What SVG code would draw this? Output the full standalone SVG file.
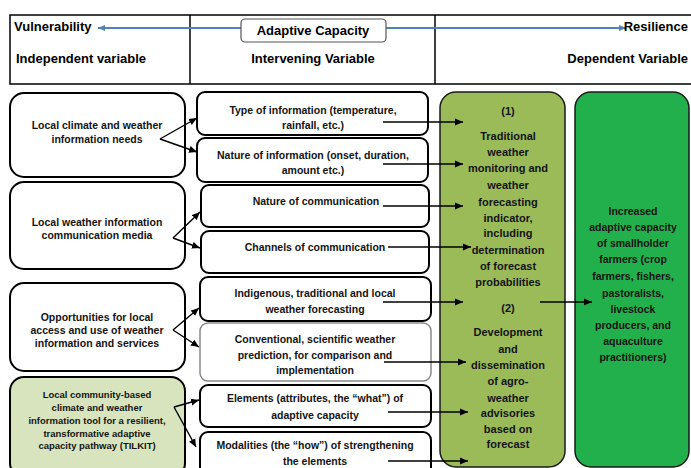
<svg xmlns="http://www.w3.org/2000/svg" width="691" height="468" viewBox="0 0 691 468">
  <style>
    text { font-family: "Liberation Sans", Arial, sans-serif; font-weight: bold; fill: #141414; }
    .hdr { font-size: 13px; fill: #000; }
    .t { font-size: 10.5px; text-anchor: middle; }
    .ts { font-size: 9.5px; text-anchor: middle; }
    .tg { font-size: 11px; text-anchor: middle; }
    .box { fill: #fff; stroke: #000; stroke-width: 2; }
    .soft { fill: #fff; stroke: #8a8a8a; stroke-width: 1.5; }
    .grid { fill: none; stroke: #000; stroke-width: 1.5; }
    .con { fill: none; stroke: #000; stroke-width: 1.4; }
    .blue { fill: none; stroke: #4f81bd; stroke-width: 2; }
  </style>
  <defs>
    <marker id="ah" markerUnits="userSpaceOnUse" markerWidth="9" markerHeight="8" refX="8" refY="4" orient="auto">
      <path d="M0,0.5 L8,4 L0,7.5 z" fill="#000"/>
    </marker>
    <marker id="ahb" markerUnits="userSpaceOnUse" markerWidth="9" markerHeight="8" refX="7" refY="4" orient="auto">
      <path d="M0,1 L7,4 L0,7 z" fill="#4f81bd"/>
    </marker>
  </defs>

  <rect width="691" height="468" fill="#fff"/>

  <!-- header table -->
  <g id="header">
    <rect class="grid" x="10" y="15" width="690" height="69"/>
    <line class="grid" x1="190" y1="15" x2="190" y2="84"/>
    <line class="grid" x1="435" y1="15" x2="435" y2="84"/>
    <line class="blue" x1="241" y1="28" x2="98" y2="28" marker-end="url(#ahb)"/>
    <line class="blue" x1="386" y1="28" x2="626" y2="28" marker-end="url(#ahb)"/>
    <rect x="241" y="19" width="145" height="23" rx="4" fill="#fff" stroke="#555" stroke-width="1.2"/>
    <text class="hdr" x="313" y="35" text-anchor="middle">Adaptive Capacity</text>
    <text class="hdr" x="14" y="31">Vulnerability</text>
    <text class="hdr" x="688" y="31" text-anchor="end">Resilience</text>
    <text class="hdr" x="16" y="63">Independent variable</text>
    <text class="hdr" x="313" y="63" text-anchor="middle">Intervening Variable</text>
    <text class="hdr" x="688" y="63" text-anchor="end">Dependent Variable</text>
  </g>

  <!-- independent variables -->
  <g id="needs">
    <rect class="box" x="10" y="93" width="175" height="84" rx="14"/>
    <text class="t" x="97" y="129">Local climate and weather</text>
    <text class="t" x="97" y="143">information needs</text>
  </g>
  <g id="media">
    <rect class="box" x="10" y="182" width="175" height="87" rx="14"/>
    <text class="t" x="97" y="226">Local weather information</text>
    <text class="t" x="97" y="239">communication media</text>
  </g>
  <g id="access">
    <rect class="box" x="10" y="283" width="175" height="88" rx="14"/>
    <text class="t" x="97" y="321">Opportunities for local</text>
    <text class="t" x="97" y="334">access and use of weather</text>
    <text class="t" x="97" y="347">information and services</text>
  </g>
  <g id="tilkit">
    <rect x="10" y="377" width="175" height="100" rx="14" fill="#d7e4bd" stroke="#000" stroke-width="2"/>
    <text class="ts" x="97" y="398">Local community-based</text>
    <text class="ts" x="97" y="411">climate and  weather</text>
    <text class="ts" x="97" y="424">information tool  for a resilient,</text>
    <text class="ts" x="97" y="437">transformative  adaptive</text>
    <text class="ts" x="97" y="449">capacity pathway  (TILKIT)</text>
  </g>

  <!-- intervening variables -->
  <g id="type-info">
    <rect class="box" x="197" y="92" width="231" height="43" rx="8"/>
    <text class="t" x="313" y="114">Type of information  (temperature,</text>
    <text class="t" x="313" y="129">rainfall, etc.)</text>
  </g>
  <g id="nature-info">
    <rect class="box" x="197" y="138" width="231" height="44" rx="8"/>
    <text class="t" x="313" y="159">Nature of information (onset, duration,</text>
    <text class="t" x="313" y="174">amount etc.)</text>
  </g>
  <g id="nature-comm">
    <rect class="box" x="201" y="185" width="228" height="42" rx="8"/>
    <text class="t" x="316" y="205">Nature of communication</text>
  </g>
  <g id="channels">
    <rect class="box" x="201" y="231" width="228" height="42" rx="8"/>
    <text class="t" x="315" y="251">Channels of communication</text>
  </g>
  <g id="indigenous">
    <rect class="box" x="200" y="277" width="231" height="44" rx="8"/>
    <text class="t" x="315" y="297">Indigenous, traditional and local</text>
    <text class="t" x="315" y="313">weather forecasting</text>
  </g>
  <g id="conventional">
    <rect class="soft" x="200" y="323" width="231" height="58" rx="8"/>
    <text class="t" x="315" y="343">Conventional, scientific weather</text>
    <text class="t" x="315" y="359">prediction, for comparison and</text>
    <text class="t" x="315" y="374">implementation</text>
  </g>
  <g id="elements">
    <rect class="box" x="200" y="385" width="231" height="42" rx="8"/>
    <text class="t" x="315" y="402">Elements (attributes, the “what”) of</text>
    <text class="t" x="315" y="419">adaptive capacity</text>
  </g>
  <g id="modalities">
    <rect class="box" x="200" y="432" width="231" height="45" rx="8"/>
    <text class="t" x="315" y="449">Modalities (the “how”) of strengthening</text>
    <text class="t" x="315" y="465">the elements</text>
  </g>

  <!-- outcomes -->
  <g id="monitoring">
    <rect x="440" y="92" width="125" height="375" rx="16" fill="#9bbb59" stroke="#1a1a1a" stroke-width="1.5"/>
    <text class="tg" x="508" y="115">(1)</text>
    <text class="tg" x="508" y="140">Traditional</text>
    <text class="tg" x="508" y="156">weather</text>
    <text class="tg" x="508" y="172">monitoring and</text>
    <text class="tg" x="508" y="189">weather</text>
    <text class="tg" x="508" y="206">forecasting</text>
    <text class="tg" x="508" y="222">indicator,</text>
    <text class="tg" x="508" y="237">including</text>
    <text class="tg" x="508" y="254">determination</text>
    <text class="tg" x="508" y="270">of forecast</text>
    <text class="tg" x="508" y="286">probabilities</text>
    <text class="tg" x="508" y="312">(2)</text>
    <text class="tg" x="508" y="336">Development</text>
    <text class="tg" x="508" y="353">and</text>
    <text class="tg" x="508" y="369">dissemination</text>
    <text class="tg" x="508" y="385">of agro-</text>
    <text class="tg" x="508" y="402">weather</text>
    <text class="tg" x="508" y="417">advisories</text>
    <text class="tg" x="508" y="433">based on</text>
    <text class="tg" x="508" y="448">forecast</text>
  </g>
  <g id="capacity">
    <rect x="575" y="92" width="114" height="375" rx="16" fill="#22b04c" stroke="#1a1a1a" stroke-width="1.5"/>
    <text class="t" x="633" y="215">Increased</text>
    <text class="t" x="633" y="231">adaptive capacity</text>
    <text class="t" x="633" y="247">of smallholder</text>
    <text class="t" x="633" y="263">farmers (crop</text>
    <text class="t" x="633" y="280">farmers, fishers,</text>
    <text class="t" x="633" y="297">pastoralists,</text>
    <text class="t" x="633" y="313">livestock</text>
    <text class="t" x="633" y="329">producers, and</text>
    <text class="t" x="633" y="345">aquaculture</text>
    <text class="t" x="633" y="361">practitioners)</text>
  </g>

  <!-- connectors -->
  <g id="connectors">
    <path class="con" d="M160,139 L197,118" marker-end="url(#ah)"/>
    <path class="con" d="M160,139 L197,152" marker-end="url(#ah)"/>
    <path class="con" d="M173,238 L200,212" marker-end="url(#ah)"/>
    <path class="con" d="M173,238 L200,248" marker-end="url(#ah)"/>
    <path class="con" d="M173,330 L199,308" marker-end="url(#ah)"/>
    <path class="con" d="M173,330 L199,347" marker-end="url(#ah)"/>
    <path class="con" d="M174,407 L199,400" marker-end="url(#ah)"/>
    <path class="con" d="M174,407 L196,447" marker-end="url(#ah)"/>

    <path class="con" d="M383,122 L463,122" marker-end="url(#ah)"/>
    <path class="con" d="M383,164 L463,164" marker-end="url(#ah)"/>
    <path class="con" d="M383,206 L463,206" marker-end="url(#ah)"/>
    <path class="con" d="M388,247 L471,247" marker-end="url(#ah)"/>
    <path class="con" d="M383,302 L463,302" marker-end="url(#ah)"/>
    <path class="con" d="M384,362 L466,362" marker-end="url(#ah)"/>
    <path class="con" d="M388,412 L468,412" marker-end="url(#ah)"/>
    <path class="con" d="M388,461 L468,461" marker-end="url(#ah)"/>

    <path class="con" d="M540,302 L592,302" marker-end="url(#ah)"/>
  </g>
</svg>
